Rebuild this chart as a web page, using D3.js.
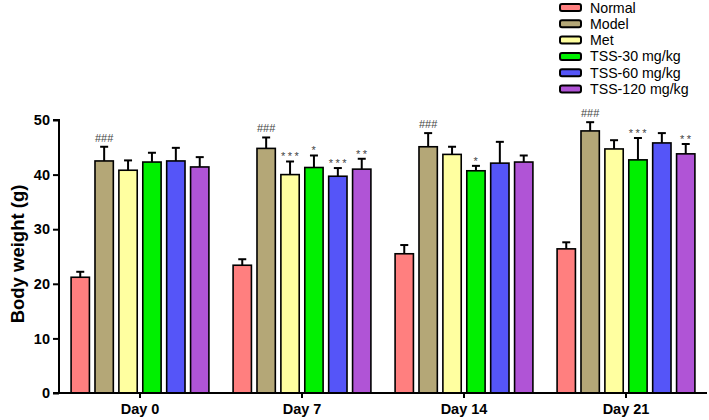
<!DOCTYPE html>
<html><head><meta charset="utf-8">
<script src="https://cdn.jsdelivr.net/npm/d3@7"></script>
<style>
body{margin:0;background:#fff;}
svg{display:block;font-family:"Liberation Sans",Arial,sans-serif;}
</style></head>
<body><svg id="chart" width="709" height="420"></svg>
<script>
const days = ["Day 0","Day 7","Day 14","Day 21"];
const groups = ["Normal","Model","Met","TSS-30 mg/kg","TSS-60 mg/kg","TSS-120 mg/kg"];
const colors = ["#ff7f7f","#b4a777","#ffffa0","#00f000","#5555f8","#b054d6"];
const normalMean = [21.2,23.4,25.5,26.4];
const normalErr  = [1.0,1.1,1.6,1.2];
const modelMean  = [42.5,44.8,45.1,48.0];
const modelErr   = [2.6,2.0,2.5,1.6];
const metMean    = [40.8,40.0,43.7,44.7];
const metErr     = [1.8,2.4,1.4,1.6];
const tss30Mean  = [42.3,41.3,40.7,42.7];
const tss30Err   = [1.7,2.2,0.9,4.0];
const tss60Mean  = [42.5,39.7,42.1,45.8];
const tss60Err   = [2.4,1.5,3.9,1.8];
const tss120Mean = [41.4,41.0,42.3,43.8];
const tss120Err  = [1.8,1.9,1.2,1.8];
const normalSig  = ["","","",""];
const modelSig   = ["###","###","###","###"];
const metSig     = ["","***","",""];
const tss30Sig   = ["","*","*","***"];
const tss60Sig   = ["","***","",""];
const tss120Sig  = ["","**","","**"];
const yTicks = [0,10,20,30,40,50];

const means = [normalMean,modelMean,metMean,tss30Mean,tss60Mean,tss120Mean];
const errs = [normalErr,modelErr,metErr,tss30Err,tss60Err,tss120Err];
const sigs = [normalSig,modelSig,metSig,tss30Sig,tss60Sig,tss120Sig];

const svg = d3.select("#chart");
const x0 = d3.scaleBand().domain(days).range([59,707]).paddingInner(0.14).paddingOuter(0.07);
const x1 = d3.scaleBand().domain(groups).range([0,x0.bandwidth()]).paddingInner(0.17).paddingOuter(0);
const y = d3.scaleLinear().domain([0,50]).range([393,120]);

const data = [];
days.forEach((d,i)=>groups.forEach((g,j)=>data.push({day:d,g:g,j:j,v:means[j][i],e:errs[j][i],s:sigs[j][i]})));

// error bars (behind bars)
const eb = svg.append("g").attr("stroke","#000").attr("stroke-width",2);
data.forEach(d=>{
  const cx = x0(d.day)+x1(d.g)+x1.bandwidth()/2;
  eb.append("line").attr("x1",cx).attr("x2",cx).attr("y1",y(d.v)).attr("y2",y(d.v+d.e));
  eb.append("line").attr("x1",cx-4).attr("x2",cx+4).attr("y1",y(d.v+d.e)).attr("y2",y(d.v+d.e));
});

svg.append("g").selectAll("rect").data(data).join("rect")
  .attr("x",d=>x0(d.day)+x1(d.g)+0.75)
  .attr("width",x1.bandwidth()-1.5)
  .attr("y",d=>y(d.v))
  .attr("height",d=>y(0)-y(d.v))
  .attr("fill",d=>colors[d.j])
  .attr("stroke","#000").attr("stroke-width",1.6);

svg.append("g").selectAll("text").data(data.filter(d=>d.s)).join("text")
  .attr("x",d=>x0(d.day)+x1(d.g)+x1.bandwidth()/2 + (d.s.startsWith("*")?1:0))
  .attr("y",d=>y(d.v+d.e)-4 + (d.s.startsWith("#")?-1:3))
  .attr("text-anchor","middle")
  .attr("font-size",11)
  .attr("fill","#444")
  .attr("letter-spacing",d=>d.s.startsWith("*")?2.5:0)
  .text(d=>d.s);

// axes
const yAxis = svg.append("g").attr("transform","translate(59,0)")
  .call(d3.axisLeft(y).tickValues(yTicks).tickSize(6).tickPadding(3));
const xAxis = svg.append("g").attr("transform","translate(0,393)")
  .call(d3.axisBottom(x0).tickSize(5).tickPadding(6));
[yAxis,xAxis].forEach(a=>{
  a.select(".domain").attr("stroke","#000").attr("stroke-width",2);
  a.selectAll(".tick line").attr("stroke","#000").attr("stroke-width",2);
  a.selectAll(".tick text").attr("fill","#000").attr("font-size",14.5).attr("font-weight","bold")
   .attr("font-family","'Liberation Sans',Arial,sans-serif");
});
yAxis.select(".domain").attr("d","M-6,120H0V393H-6");
xAxis.select(".domain").attr("d","M59,0H707");

svg.append("text").attr("transform","translate(24,254) rotate(-90)")
  .attr("text-anchor","middle").attr("font-size",18.5).attr("font-weight","bold")
  .text("Body weight (g)");

// legend
const lg = svg.append("g");
groups.forEach((g,i)=>{
  const yy = 7.5 + i*16.3;
  lg.append("rect").attr("x",560).attr("y",yy-3.5).attr("width",21).attr("height",7).attr("rx",2)
    .attr("fill",colors[i]).attr("stroke","#000").attr("stroke-width",2);
  lg.append("text").attr("x",590).attr("y",yy+5).attr("font-size",14.2).text(g);
});
</script></body></html>
